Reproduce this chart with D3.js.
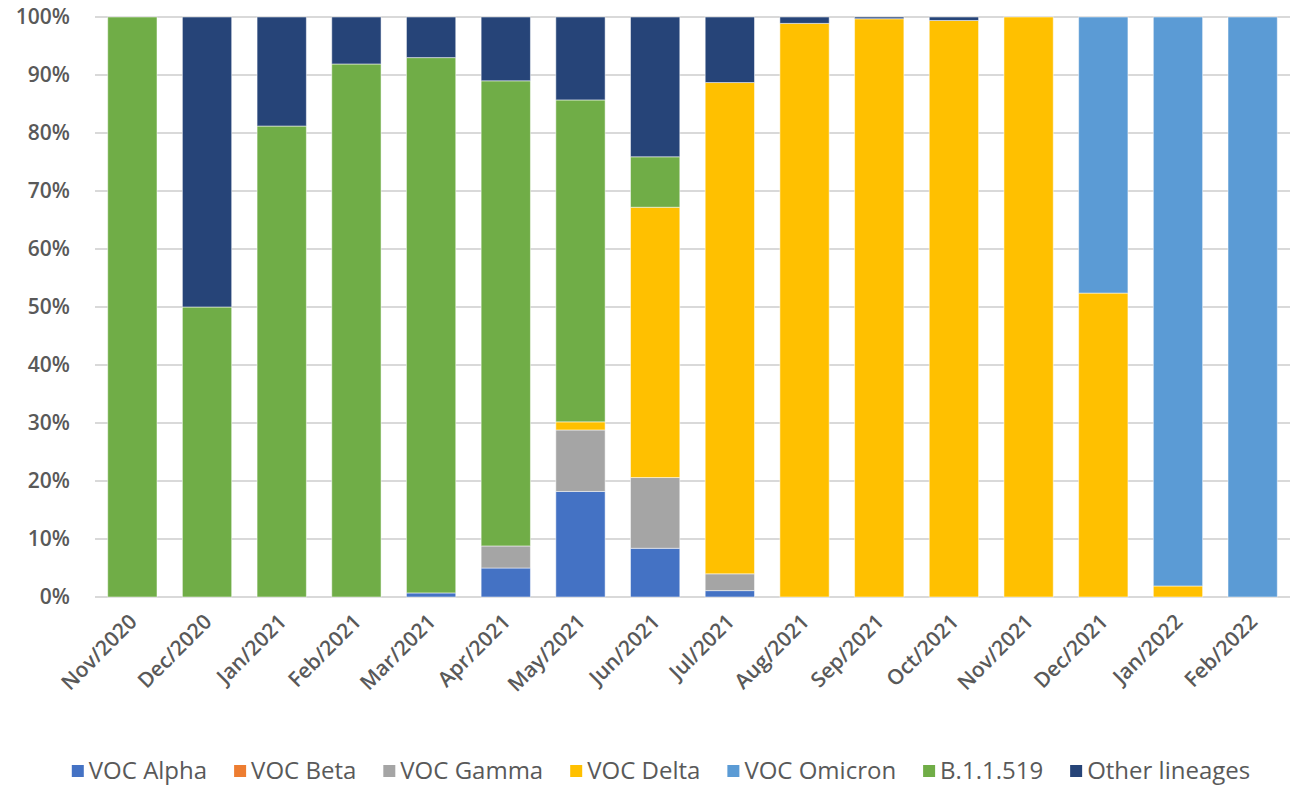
<!DOCTYPE html>
<html>
<head>
<meta charset="utf-8">
<script src="https://cdn.jsdelivr.net/npm/d3@7"></script>
<style>
  body { margin: 0; background: #fff; }
  svg { display: block; font-family: "Open Sans", "DejaVu Sans", sans-serif; }
</style>
</head>
<body>
<div id="app"></div>
<script>
const app = document.getElementById("app");

// months on the x axis
const months = ["Nov/2020", "Dec/2020", "Jan/2021", "Feb/2021", "Mar/2021", "Apr/2021",
  "May/2021", "Jun/2021", "Jul/2021", "Aug/2021", "Sep/2021", "Oct/2021",
  "Nov/2021", "Dec/2021", "Jan/2022", "Feb/2022"];

const seriesNames = ["VOC Alpha", "VOC Beta", "VOC Gamma", "VOC Delta", "VOC Omicron", "B.1.1.519", "Other lineages"];
const seriesColors = ["#4472C4", "#ED7D31", "#A5A5A5", "#FFC000", "#5B9BD5", "#70AD47", "#264478"];

// share of sequences (%) per month
const alpha    = [0, 0, 0, 0, 0.7, 5.0, 18.2, 8.4, 1.1, 0, 0, 0, 0, 0, 0, 0];
const beta     = [0, 0, 0, 0, 0, 0, 0, 0, 0, 0, 0, 0, 0, 0, 0, 0];
const gamma    = [0, 0, 0, 0, 0, 3.8, 10.6, 12.2, 2.9, 0, 0, 0, 0, 0, 0, 0];
const delta    = [0, 0, 0, 0, 0, 0, 1.4, 46.6, 84.7, 98.9, 99.7, 99.4, 100, 52.4, 1.9, 0];
const omicron  = [0, 0, 0, 0, 0, 0, 0, 0, 0, 0, 0, 0, 0, 47.6, 98.1, 100];
const b11519   = [100, 50, 81.2, 91.9, 92.3, 80.2, 55.5, 8.7, 0, 0, 0, 0, 0, 0, 0, 0];
const other    = [0, 50, 18.8, 8.1, 7.0, 11.0, 14.3, 24.1, 11.3, 1.1, 0.3, 0.6, 0, 0, 0, 0];

const yTicks = [0, 10, 20, 30, 40, 50, 60, 70, 80, 90, 100];

const seriesValues = [alpha, beta, gamma, delta, omicron, b11519, other];

const table = months.map((m, i) => {
  const row = { month: m };
  seriesNames.forEach((s, j) => (row[s] = seriesValues[j][i]));
  return row;
});

const width = 1291;
const height = 787;
const margin = { top: 17, right: 1, bottom: 190, left: 95 };

const svg = d3
  .select(app)
  .append("svg")
  .attr("width", width)
  .attr("height", height);

const x = d3
  .scaleBand()
  .domain(months)
  .range([margin.left, width - margin.right])
  .paddingInner(0.34)
  .paddingOuter(0.17);

const y = d3
  .scaleLinear()
  .domain([0, 100])
  .range([height - margin.bottom, margin.top]);

const color = d3.scaleOrdinal().domain(seriesNames).range(seriesColors);

// gridlines
svg
  .append("g")
  .selectAll("line")
  .data(yTicks)
  .join("line")
  .attr("x1", margin.left)
  .attr("x2", width - margin.right)
  .attr("y1", d => y(d))
  .attr("y2", d => y(d))
  .attr("stroke", "#d9d9d9")
  .attr("stroke-width", 2);

// y axis labels
const yAxis = d3
  .axisLeft(y)
  .tickValues(yTicks)
  .tickFormat(d => d + "%")
  .tickSize(0)
  .tickPadding(25);

svg
  .append("g")
  .attr("transform", `translate(${margin.left},0)`)
  .call(yAxis)
  .call(g => g.select(".domain").remove())
  .selectAll("text")
  .attr("fill", "#595959")
  .attr("font-size", 21)
  .attr("font-weight", 600)
  .attr("font-family", '"Open Sans", sans-serif');

// stacked bars
const stack = d3.stack().keys(seriesNames);
const layers = stack(table);

svg
  .append("g")
  .selectAll("g")
  .data(layers)
  .join("g")
  .attr("fill", d => color(d.key))
  .selectAll("rect")
  .data(d => d.filter(p => p[1] - p[0] > 0))
  .join("rect")
  .attr("x", d => x(d.data.month))
  .attr("y", d => y(d[1]))
  .attr("width", x.bandwidth())
  .attr("height", d => y(d[0]) - y(d[1]))
  .attr("stroke", "#ffffff")
  .attr("stroke-opacity", 0.5)
  .attr("stroke-width", 1);

// x axis labels
const xAxis = d3.axisBottom(x).tickSize(0).tickPadding(0);

svg
  .append("g")
  .attr("transform", `translate(0,${height - margin.bottom})`)
  .call(xAxis)
  .call(g => g.select(".domain").remove())
  .selectAll("text")
  .attr("fill", "#595959")
  .attr("font-size", 21)
  .attr("font-weight", 600)
  .attr("font-family", '"Open Sans", sans-serif')
  .attr("text-anchor", "end")
  .attr("dy", 0)
  .attr("transform", "translate(6,26) rotate(-45)");

// legend
const legend = svg.append("g").attr("transform", `translate(0,771)`);

const items = legend
  .selectAll("g")
  .data(seriesNames)
  .join("g");

items
  .append("rect")
  .attr("y", -6)
  .attr("width", 12)
  .attr("height", 12)
  .attr("fill", d => color(d));

items
  .append("text")
  .attr("x", 17)
  .attr("dy", "0.35em")
  .attr("fill", "#595959")
  .attr("font-size", 24)
  .attr("font-family", '"Open Sans", sans-serif')
  .text(d => d);

let offset = 0;
const widths = [];
items.each(function () {
  widths.push(this.getBBox().width);
});
const gap = 27;
const total = d3.sum(widths) + gap * (widths.length - 1);
offset = 661 - total / 2;
items.attr("transform", (d, i) => {
  const t = `translate(${offset},0)`;
  offset += widths[i] + gap;
  return t;
});
</script>
</body>
</html>
